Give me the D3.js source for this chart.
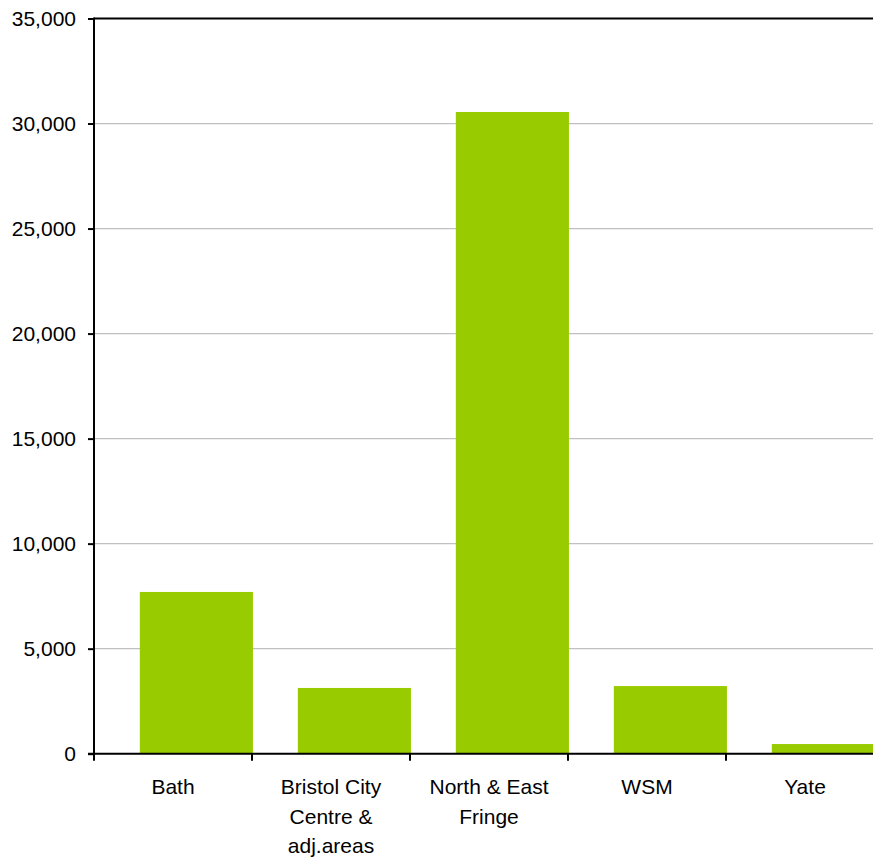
<!DOCTYPE html>
<html>
<head>
<meta charset="utf-8">
<script src="https://cdn.jsdelivr.net/npm/d3@7"></script>
<style>
  html, body { margin: 0; padding: 0; background: #fff; overflow: hidden; }
  svg { display: block; font-family: "Liberation Sans", Arial, sans-serif; }
</style>
</head>
<body>
<svg id="chart" width="873" height="857"></svg>
<script>
// Employment by area
const categories = ["Bath", "Bristol City Centre & adj.areas", "North & East Fringe", "WSM", "Yate"];
const values = [7700, 3130, 30550, 3220, 460];
const yTicks = [0, 5000, 10000, 15000, 20000, 25000, 30000, 35000];

const svg = d3.select("#chart");
const margin = { left: 94, top: 18.5, right: -11, bottom: 103 };
const W = 873, H = 857;
const x0 = margin.left, x1 = W - margin.right;   // plot extends just past the right edge
const yTop = margin.top, yBot = 753.7;

const x = d3.scaleBand().domain(categories).range([x0, x1]).padding(0);
const y = d3.scaleLinear().domain([0, 35000]).range([yBot, yTop]);

const fontSize = 21;
const bw = x.bandwidth();

// horizontal gridlines
svg.append("g")
  .selectAll("line")
  .data(yTicks.filter(t => t > 0 && t < 35000))
  .join("line")
  .attr("x1", x0).attr("x2", x1)
  .attr("y1", d => y(d)).attr("y2", d => y(d))
  .attr("stroke", "#c0c0c0").attr("stroke-width", 1.2);

// top border of the plot area
svg.append("line")
  .attr("x1", x0).attr("x2", x1)
  .attr("y1", y(35000)).attr("y2", y(35000))
  .attr("stroke", "#000").attr("stroke-width", 2);

// bars
svg.append("g")
  .selectAll("rect")
  .data(categories.map((c, i) => ({ c, v: values[i] })))
  .join("rect")
  .attr("x", d => x(d.c) + bw * 0.29)
  .attr("width", bw * 0.716)
  .attr("y", d => y(d.v))
  .attr("height", d => yBot - y(d.v))
  .attr("fill", "#99cc00");

// y axis
const yAxis = d3.axisLeft(y).tickValues(yTicks).tickSize(6).tickPadding(12)
  .tickFormat(d3.format(","));
const gy = svg.append("g").attr("transform", `translate(${x0},0)`).call(yAxis);
gy.select(".domain").remove();
gy.selectAll(".tick line").attr("stroke", "#000").attr("stroke-width", 2);
gy.selectAll(".tick text")
  .attr("font-size", fontSize).attr("fill", "#000")
  .attr("font-family", '"Liberation Sans", Arial, sans-serif');
svg.append("line")
  .attr("x1", x0).attr("x2", x0)
  .attr("y1", y(35000) - 1).attr("y2", yBot + 7)
  .attr("stroke", "#000").attr("stroke-width", 2);

// x axis line and ticks at band boundaries
svg.append("line")
  .attr("x1", x0 - 6).attr("x2", x1)
  .attr("y1", yBot).attr("y2", yBot)
  .attr("stroke", "#000").attr("stroke-width", 2);
const bounds = categories.map(c => x(c)).concat([x(categories[categories.length - 1]) + bw]);
svg.append("g")
  .selectAll("line")
  .data(bounds.slice(1))
  .join("line")
  .attr("x1", d => d).attr("x2", d => d)
  .attr("y1", yBot).attr("y2", yBot + 7)
  .attr("stroke", "#000").attr("stroke-width", 2);

// category labels, wrapped to the band width
const measure = svg.append("text").attr("font-size", fontSize).attr("visibility", "hidden");
function wrap(str, maxW) {
  const words = str.split(" ");
  const lines = [];
  let cur = "";
  for (const w of words) {
    const test = cur ? cur + " " + w : w;
    measure.text(test);
    if (cur && measure.node().getComputedTextLength() > maxW) {
      lines.push(cur);
      cur = w;
    } else cur = test;
  }
  if (cur) lines.push(cur);
  return lines;
}
const lineH = 29.5;
categories.forEach(c => {
  const t = svg.append("text")
    .attr("text-anchor", "middle")
    .attr("font-size", fontSize)
    .attr("fill", "#000");
  wrap(c, 130).forEach((ln, i) => {
    t.append("tspan")
      .attr("x", x(c) + bw / 2)
      .attr("y", 794.3 + i * lineH)
      .text(ln);
  });
});
measure.remove();
</script>
</body>
</html>
